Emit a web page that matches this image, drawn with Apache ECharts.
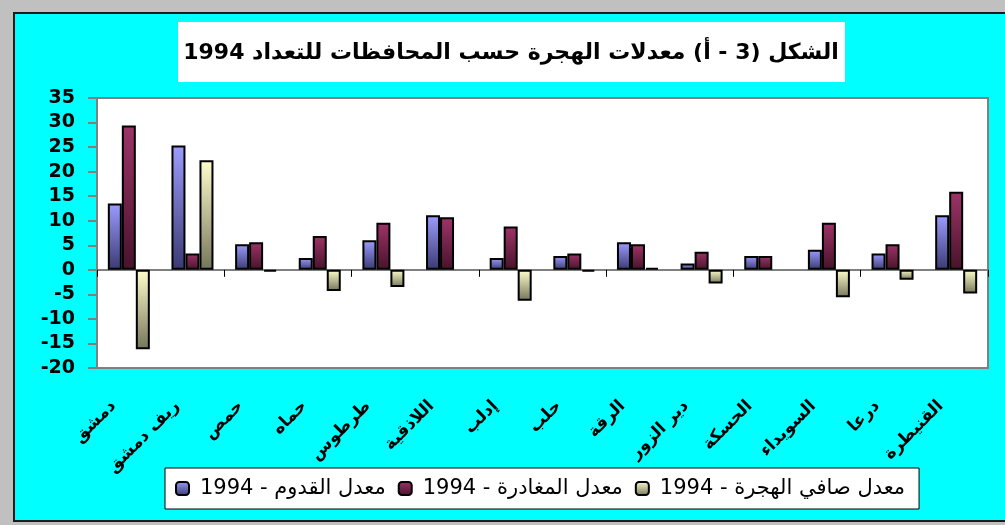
<!DOCTYPE html>
<html>
<head>
<meta charset="utf-8">
<script src="https://cdn.jsdelivr.net/npm/echarts@6/dist/echarts.min.js"></script>
<style>
html,body{margin:0;padding:0;background:#c0c0c0;}
#c{width:1005px;height:525px;}
</style>
</head>
<body>
<div id="c"></div>
<script>
const titleText = 'الشكل (3 - أ) معدلات الهجرة حسب المحافظات للتعداد 1994';
const categories = ['دمشق','ريف دمشق','حمص','حماه','طرطوس','اللاذقية','إدلب','حلب','الرقة','دير الزور','الحسكة','السويداء','درعا','القنيطرة'];
const seriesNames = ['معدل القدوم - 1994','معدل المغادرة - 1994','معدل صافي الهجرة - 1994'];
const arrivals   = [13.5, 25.3, 5.2, 2.4, 6.0, 11.1, 2.4, 2.8, 5.6, 1.3, 2.8, 4.1, 3.3, 11.1];
const departures = [29.4, 3.3, 5.6, 6.9, 9.6, 10.7, 8.8, 3.3, 5.2, 3.7, 2.8, 9.6, 5.2, 15.9];
const netMigration = [-16.2, 22.3, -0.4, -4.3, -3.5, 0, -6.3, -0.4, 0.4, -2.8, 0, -5.6, -2.0, -4.8];
const yMin = -20, yMax = 35, yStep = 5;

const RLE = '\u202B', PDF = '\u202C';
const rtl = s => RLE + s + PDF;
const grad = (a, b) => ({type:'linear', x:0, y:0, x2:0, y2:1, colorStops:[{offset:0, color:a},{offset:1, color:b}]});
const colors = [grad('#9c9cff','#3a3a72'), grad('#9e3468','#47132a'), grad('#ffffcc','#75755a')];
const FONT = '"DejaVu Sans", "Liberation Sans", sans-serif';

// zero-height bars are not outlined (as in the original chart)
const toItems = arr => arr.map(v => v === 0 ? {value:v, itemStyle:{borderWidth:0}} : v);

const chart = echarts.init(document.getElementById('c'));
const mkSeries = (name, data, i) => ({
  name, type:'bar', data:toItems(data), xAxisIndex:0, yAxisIndex:0,
  barWidth:14, barGap:'0%',
  itemStyle:{color:colors[i], borderColor:'#000', borderWidth:2},
  emphasis:{disabled:true}
});
chart.setOption({
  animation:false,
  backgroundColor:'#c0c0c0',
  graphic:[
    {type:'rect', z:-100, silent:true, shape:{x:14, y:13, width:1000, height:508}, style:{fill:'#00ffff', stroke:'#1a1a1a', lineWidth:2}},
    {type:'rect', z:1, silent:true, shape:{x:178, y:22, width:667, height:60}, style:{fill:'#ffffff'}},
    {type:'text', z:2, silent:true, x:511, y:53, style:{text:rtl(titleText), font:'bold 22px ' + FONT, fill:'#000', align:'center', verticalAlign:'middle'}}
  ],
  grid:{left:97, top:98, width:891, height:270, show:true, backgroundColor:'#ffffff', borderColor:'#808080', borderWidth:2, containLabel:false},
  legend:{
    left:165, top:468, itemWidth:13, itemHeight:13, itemGap:12,
    padding:[10,14,10,10], backgroundColor:'#ffffff', borderColor:'#000', borderWidth:1,
    textStyle:{fontFamily:FONT, fontSize:21, color:'#000', padding:[0,0,0,6]},
    formatter: name => rtl(name),
    data:seriesNames
  },
  xAxis:[
    {type:'category', data:categories, position:'bottom',
     axisLine:{show:false, onZero:false}, axisTick:{show:false},
     axisLabel:{interval:0, rotate:45, margin:20, padding:[0,22,0,0], fontFamily:FONT, fontWeight:'bold', fontSize:17, color:'#000'}},
    {type:'category', data:categories, position:'bottom',
     axisLine:{show:true, onZero:true, lineStyle:{color:'#808080', width:2}},
     axisTick:{show:true, length:7, lineStyle:{color:'#000', width:1}},
     axisLabel:{show:false}}
  ],
  yAxis:{type:'value', min:yMin, max:yMax, interval:yStep,
    axisLine:{show:true, lineStyle:{color:'#808080', width:2}},
    axisTick:{show:true, length:9, lineStyle:{color:'#808080', width:2}},
    splitLine:{show:false},
    axisLabel:{margin:22, fontFamily:FONT, fontWeight:'bold', fontSize:19, color:'#000'}},
  series:[mkSeries(seriesNames[0], arrivals, 0), mkSeries(seriesNames[1], departures, 1), mkSeries(seriesNames[2], netMigration, 2)]
});
</script>
</body>
</html>
